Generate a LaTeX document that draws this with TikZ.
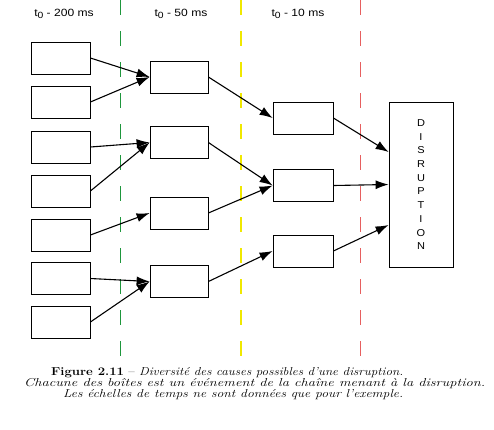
\documentclass[tikz,border=0pt]{standalone}
\usepackage{fontspec}
\setsansfont{Liberation Sans}
\usetikzlibrary{arrows.meta}
\definecolor{lgreen}{RGB}{30,150,60}
\definecolor{lyellow}{RGB}{240,232,0}
\definecolor{lred}{RGB}{230,95,95}
\newcommand\fitline[2]{\resizebox{#1}{\height}{#2}}
\newcommand\tzero{t\raisebox{-2.5pt}{\fontsize{9}{10}\selectfont 0}}
\begin{document}
\begin{tikzpicture}[x=1pt,y=-1pt,
  evbox/.style={draw,line width=0.8pt,inner sep=0pt,minimum width=59pt,minimum height=32pt},
  conn/.style={line width=1.1pt,-{Latex[length=13pt,width=9pt]}},
  timeline/.style={line width=1pt,dash pattern=on 15pt off 16pt},
  tlabel/.style={font=\sffamily\fontsize{10.5}{12}\selectfont,inner sep=0pt},
  captext/.style={anchor=base west,inner sep=0pt,font=\fontsize{11.5}{12}\selectfont}]
\useasboundingbox (0,0) rectangle (494,429);
% time lines
\draw[timeline,lgreen] (120,0) -- (120,366);
\draw[timeline,lyellow,line width=1.4pt] (241,0) -- (241,366);
\draw[timeline,lred] (360,0) -- (360,366);
\node[tlabel] (l1) at (64,14) {\scalebox{1.15}[1]{\tzero{} - 200 ms}};
\node[tlabel] (l2) at (181,14) {\scalebox{1.15}[1]{\tzero{} - 50 ms}};
\node[tlabel] (l3) at (298,14) {\scalebox{1.15}[1]{\tzero{} - 10 ms}};
% column 1
\node[evbox] (a1) at (60.5,58) {};
\node[evbox] (a2) at (60.5,102) {};
\node[evbox] (a3) at (60.5,147) {};
\node[evbox] (a4) at (60.5,191) {};
\node[evbox] (a5) at (60.5,235) {};
\node[evbox] (a6) at (60.5,278.5) {};
\node[evbox] (a7) at (60.5,322) {};
% column 2
\node[evbox,minimum width=58pt] (b1) at (179,77) {};
\node[evbox,minimum width=58pt] (b2) at (179,142.5) {};
\node[evbox,minimum width=58pt] (b3) at (179,213) {};
\node[evbox,minimum width=58pt] (b4) at (179,281.5) {};
% column 3
\node[evbox,minimum width=60pt] (c1) at (303,118) {};
\node[evbox,minimum width=60pt] (c2) at (303,185.5) {};
\node[evbox,minimum width=60pt] (c3) at (303,251) {};
% disruption
\node[draw,line width=0.8pt,inner sep=0pt,minimum width=64pt,minimum height=165pt] (dis) at (421,184.5) {};
\foreach \L [count=\i] in {D,I,S,R,U,P,T,I,O,N}
  \node[font=\sffamily\fontsize{10}{12}\selectfont,inner sep=0pt] (d\i) at (421,{123+13.7*(\i-1)}) {\scalebox{1.1}[1]{\L}};
\coordinate (t1) at ([yshift=32.5pt]dis.west);
\coordinate (t3) at ([yshift=-40.5pt]dis.west);
% connectors
\draw[conn] (a1.east) -- (b1.west);
\draw[conn] (a2.east) -- (b1.west);
\draw[conn] (a3.east) -- (b2.west);
\draw[conn] (a4.east) -- (b2.west);
\draw[conn] (a5.east) -- (b3.west);
\draw[conn] (a6.east) -- (b4.west);
\draw[conn] (a7.east) -- (b4.west);
\draw[conn] (b1.east) -- (c1.west);
\draw[conn] (b2.east) -- (c2.west);
\draw[conn] (b3.east) -- (c2.west);
\draw[conn] (b4.east) -- (c3.west);
\draw[conn] (c1.east) -- (t1);
\draw[conn] (c2.east) -- (dis.west);
\draw[conn] (c3.east) -- (t3);
% caption
\node[captext] (cap1) at (51,375) {\fitline{352pt}{\textbf{Figure 2.11} -- \textit{Diversité des causes possibles d'une disruption.}}};
\node[captext] (cap2) at (24,386.5) {\fitline{461pt}{\textit{Chacune des boîtes est un événement de la chaîne menant à la disruption.}}};
\node[captext] (cap3) at (63,397) {\fitline{340pt}{\textit{Les échelles de temps ne sont données que pour l'exemple.}}};
\end{tikzpicture}
\end{document}
